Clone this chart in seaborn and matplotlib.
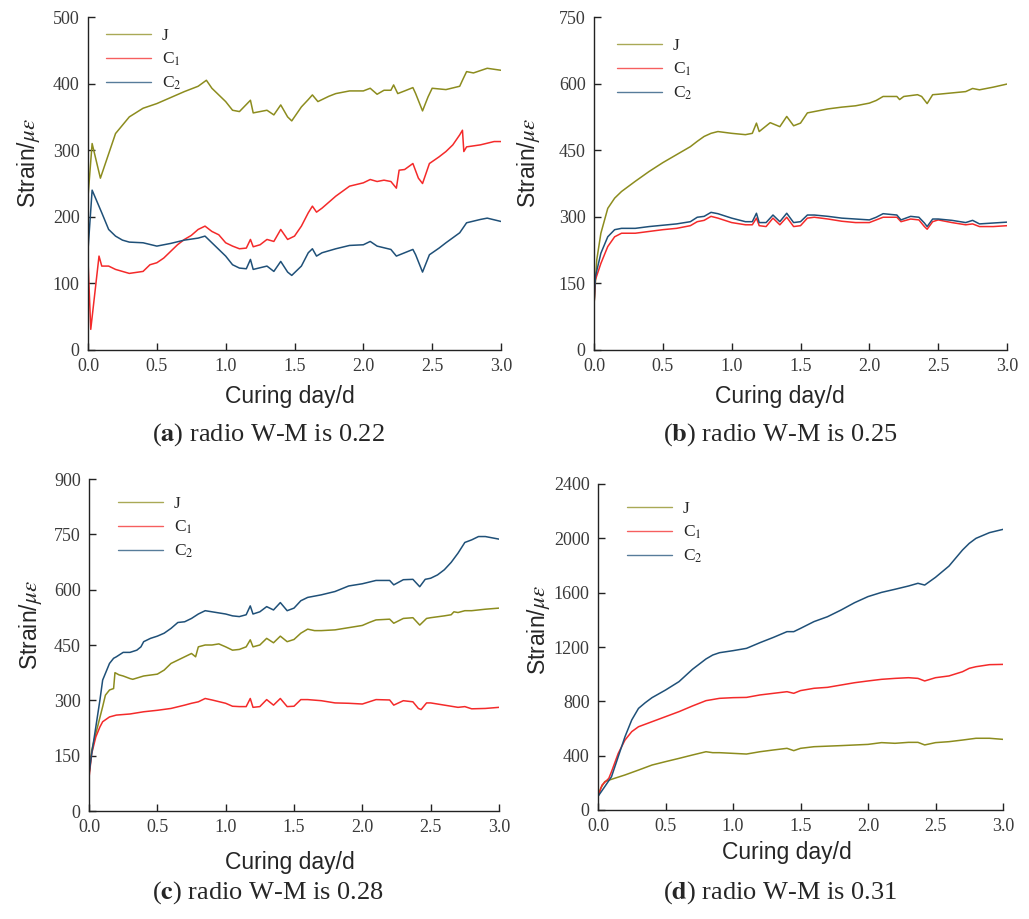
import numpy as np
import pandas as pd
import matplotlib
matplotlib.use("Agg")
import matplotlib.pyplot as plt
import seaborn as sns

# ---------------- data ----------------
# Panel (a) W-M 0.22
a_J_x = [0.0, 0.03, 0.09, 0.2, 0.3, 0.4, 0.5, 0.6, 0.7, 0.8, 0.86, 0.9, 1.0, 1.05, 1.1, 1.18, 1.2, 1.3, 1.35, 1.4, 1.45, 1.48, 1.55, 1.6, 1.63, 1.67, 1.75, 1.8, 1.9, 2.0, 2.05, 2.1, 2.15, 2.2, 2.22, 2.25, 2.3, 2.36, 2.38, 2.43, 2.47, 2.5, 2.6, 2.7, 2.72, 2.75, 2.8, 2.9, 3.0]
a_J_y = [230, 310, 258, 325, 350, 363, 370, 379, 388, 396, 405, 393, 373, 360, 358, 375, 356, 360, 353, 368, 350, 344, 365, 376, 383, 373, 381, 385, 389, 389, 393, 384, 390, 390, 398, 385, 389, 394, 385, 359, 380, 393, 391, 396, 405, 418, 416, 423, 420]
a_C1_x = [0.0, 0.02, 0.08, 0.1, 0.15, 0.2, 0.3, 0.4, 0.45, 0.5, 0.55, 0.6, 0.65, 0.7, 0.75, 0.8, 0.85, 0.9, 0.95, 1.0, 1.05, 1.1, 1.15, 1.18, 1.2, 1.25, 1.3, 1.35, 1.4, 1.45, 1.5, 1.55, 1.6, 1.63, 1.66, 1.7, 1.8, 1.9, 2.0, 2.05, 2.1, 2.15, 2.2, 2.24, 2.26, 2.3, 2.36, 2.4, 2.43, 2.48, 2.55, 2.6, 2.65, 2.7, 2.72, 2.73, 2.75, 2.85, 2.95, 3.0]
a_C1_y = [135, 31, 141, 126, 126, 121, 115, 118, 128, 131, 138, 148, 158, 166, 172, 181, 186, 178, 173, 161, 156, 152, 153, 166, 155, 158, 166, 163, 181, 166, 171, 186, 206, 216, 207, 213, 231, 246, 251, 256, 253, 255, 253, 243, 270, 271, 280, 258, 250, 280, 290, 298, 308, 323, 330, 298, 305, 308, 313, 313]
a_C2_x = [0.0, 0.03, 0.1, 0.15, 0.2, 0.25, 0.3, 0.4, 0.5, 0.6, 0.7, 0.8, 0.85, 0.9, 1.0, 1.05, 1.1, 1.15, 1.18, 1.2, 1.3, 1.35, 1.4, 1.45, 1.48, 1.55, 1.6, 1.63, 1.66, 1.7, 1.8, 1.9, 2.0, 2.05, 2.1, 2.2, 2.24, 2.3, 2.36, 2.38, 2.43, 2.48, 2.55, 2.6, 2.7, 2.75, 2.85, 2.9, 3.0]
a_C2_y = [150, 240, 206, 181, 171, 165, 162, 161, 156, 160, 165, 168, 171, 161, 141, 128, 123, 122, 136, 121, 126, 118, 133, 117, 112, 126, 146, 152, 141, 146, 152, 157, 158, 163, 156, 151, 141, 146, 151, 143, 117, 143, 153, 161, 176, 191, 196, 198, 193]

# Panel (b) W-M 0.25
b_J_x = [0.0, 0.02, 0.05, 0.1, 0.15, 0.2, 0.3, 0.4, 0.5, 0.6, 0.7, 0.75, 0.8, 0.85, 0.9, 1.0, 1.1, 1.15, 1.18, 1.2, 1.28, 1.35, 1.4, 1.45, 1.5, 1.55, 1.6, 1.7, 1.8, 1.9, 2.0, 2.05, 2.1, 2.2, 2.22, 2.25, 2.35, 2.38, 2.42, 2.46, 2.5, 2.6, 2.7, 2.75, 2.8, 2.9, 3.0]
b_J_y = [100, 203, 263, 319, 342, 357, 380, 402, 422, 440, 458, 470, 481, 488, 492, 488, 485, 488, 511, 492, 512, 503, 526, 505, 511, 534, 537, 543, 547, 550, 556, 562, 571, 571, 564, 571, 575, 571, 555, 575, 576, 579, 582, 589, 586, 592, 599]
b_C_x = [0.0, 0.01, 0.05, 0.1, 0.15, 0.2, 0.3, 0.4, 0.5, 0.6, 0.7, 0.75, 0.8, 0.85, 0.9, 1.0, 1.1, 1.15, 1.18, 1.2, 1.25, 1.3, 1.35, 1.4, 1.45, 1.5, 1.55, 1.6, 1.7, 1.8, 1.9, 2.0, 2.05, 2.1, 2.2, 2.23, 2.3, 2.36, 2.4, 2.42, 2.46, 2.5, 2.6, 2.7, 2.75, 2.8, 2.9, 3.0]
b_C1_y = [100, 158, 195, 233, 255, 263, 263, 267, 271, 274, 280, 289, 292, 301, 297, 287, 282, 282, 297, 280, 278, 297, 282, 299, 278, 280, 297, 299, 295, 290, 287, 287, 293, 299, 299, 289, 295, 293, 278, 272, 289, 293, 287, 282, 284, 278, 278, 280]
b_C2_y = [100, 165, 218, 255, 271, 274, 274, 278, 281, 284, 289, 299, 301, 310, 307, 297, 289, 289, 308, 287, 287, 304, 289, 308, 287, 289, 304, 304, 301, 297, 295, 293, 299, 307, 304, 293, 301, 299, 286, 278, 295, 295, 292, 287, 292, 284, 286, 288]

# Panel (c) W-M 0.28
c_C2_x = [0.0, 0.02, 0.05, 0.08, 0.1, 0.12, 0.15, 0.18, 0.2, 0.25, 0.3, 0.35, 0.38, 0.4, 0.45, 0.5, 0.55, 0.6, 0.65, 0.7, 0.75, 0.8, 0.85, 0.9, 1.0, 1.05, 1.1, 1.15, 1.18, 1.2, 1.25, 1.3, 1.35, 1.4, 1.45, 1.5, 1.55, 1.6, 1.7, 1.8, 1.9, 2.0, 2.1, 2.2, 2.23, 2.3, 2.37, 2.42, 2.46, 2.5, 2.55, 2.6, 2.65, 2.7, 2.75, 2.8, 2.85, 2.9, 3.0]
c_C2_y = [100, 156, 228, 301, 355, 373, 400, 414, 418, 430, 430, 436, 445, 459, 468, 474, 482, 495, 511, 513, 522, 534, 543, 540, 534, 529, 527, 532, 556, 534, 540, 554, 545, 565, 543, 550, 570, 579, 586, 595, 610, 616, 625, 625, 613, 627, 628, 608, 628, 631, 640, 654, 674, 699, 728, 735, 744, 744, 737]
c_J_x = [0.0, 0.02, 0.05, 0.1, 0.12, 0.15, 0.18, 0.19, 0.22, 0.25, 0.3, 0.32, 0.4, 0.5, 0.55, 0.6, 0.65, 0.7, 0.75, 0.78, 0.8, 0.85, 0.9, 0.95, 1.0, 1.05, 1.1, 1.15, 1.18, 1.2, 1.25, 1.3, 1.35, 1.4, 1.45, 1.5, 1.55, 1.6, 1.65, 1.7, 1.8, 1.9, 2.0, 2.05, 2.1, 2.2, 2.23, 2.3, 2.37, 2.42, 2.47, 2.5, 2.6, 2.65, 2.67, 2.7, 2.75, 2.8, 2.9, 3.0]
c_J_y = [100, 165, 210, 283, 314, 328, 332, 375, 369, 366, 359, 357, 366, 371, 382, 400, 409, 418, 427, 418, 445, 450, 450, 453, 445, 436, 438, 445, 464, 445, 450, 468, 456, 474, 459, 465, 482, 493, 489, 489, 491, 497, 503, 511, 518, 520, 509, 522, 524, 504, 522, 524, 529, 532, 540, 538, 543, 543, 547, 550]
c_C1_x = [0.0, 0.02, 0.05, 0.08, 0.1, 0.15, 0.2, 0.3, 0.4, 0.5, 0.6, 0.7, 0.75, 0.8, 0.85, 0.9, 1.0, 1.05, 1.1, 1.15, 1.18, 1.2, 1.25, 1.3, 1.35, 1.4, 1.45, 1.5, 1.55, 1.6, 1.7, 1.8, 1.9, 2.0, 2.05, 2.1, 2.2, 2.23, 2.3, 2.37, 2.41, 2.43, 2.47, 2.5, 2.6, 2.7, 2.75, 2.8, 2.9, 3.0]
c_C1_y = [90, 156, 201, 228, 242, 255, 260, 263, 269, 273, 278, 287, 292, 296, 305, 301, 292, 284, 283, 283, 305, 281, 283, 302, 287, 305, 283, 284, 302, 302, 299, 293, 292, 290, 296, 302, 301, 287, 299, 296, 278, 275, 293, 293, 287, 281, 283, 277, 278, 281]

# Panel (d) W-M 0.31
d_C2_x = [0.0, 0.05, 0.1, 0.15, 0.2, 0.25, 0.3, 0.35, 0.4, 0.5, 0.6, 0.7, 0.8, 0.85, 0.9, 1.0, 1.1, 1.2, 1.3, 1.4, 1.45, 1.5, 1.6, 1.7, 1.8, 1.9, 2.0, 2.1, 2.2, 2.3, 2.37, 2.42, 2.5, 2.6, 2.7, 2.75, 2.8, 2.9, 3.0]
d_C2_y = [100, 172, 245, 393, 540, 663, 748, 790, 827, 883, 945, 1036, 1112, 1141, 1158, 1173, 1190, 1232, 1271, 1313, 1313, 1337, 1387, 1423, 1472, 1526, 1571, 1602, 1625, 1649, 1669, 1656, 1713, 1796, 1914, 1963, 2000, 2042, 2066]
d_C1_x = [0.0, 0.03, 0.08, 0.1, 0.15, 0.2, 0.25, 0.3, 0.4, 0.5, 0.6, 0.7, 0.8, 0.9, 1.0, 1.1, 1.2, 1.3, 1.4, 1.45, 1.5, 1.6, 1.7, 1.8, 1.9, 2.0, 2.1, 2.2, 2.3, 2.37, 2.42, 2.5, 2.6, 2.7, 2.75, 2.8, 2.9, 3.0]
d_C1_y = [100, 184, 233, 282, 417, 515, 577, 613, 650, 687, 724, 766, 805, 822, 827, 829, 847, 859, 871, 859, 879, 896, 903, 920, 937, 950, 962, 969, 974, 969, 950, 974, 987, 1018, 1043, 1055, 1070, 1072]
d_J_x = [0.0, 0.02, 0.05, 0.1, 0.2, 0.3, 0.4, 0.5, 0.6, 0.7, 0.8, 0.85, 0.9, 1.0, 1.1, 1.2, 1.3, 1.4, 1.45, 1.5, 1.6, 1.8, 2.0, 2.1, 2.2, 2.3, 2.37, 2.42, 2.5, 2.6, 2.7, 2.8, 2.9, 3.0]
d_J_y = [100, 160, 209, 226, 258, 294, 331, 356, 380, 405, 429, 422, 422, 417, 412, 429, 442, 454, 437, 454, 466, 474, 483, 496, 491, 498, 498, 479, 496, 503, 515, 528, 528, 520]

series_names = ["J", "C$_1$", "C$_2$"]
x_ticks = [0.0, 0.5, 1.0, 1.5, 2.0, 2.5, 3.0]
y_ticks_a = [0, 100, 200, 300, 400, 500]
y_ticks_b = [0, 150, 300, 450, 600, 750]
y_ticks_c = [0, 150, 300, 450, 600, 750, 900]
y_ticks_d = [0, 400, 800, 1200, 1600, 2000, 2400]
captions = [("a", "0.22"), ("b", "0.25"), ("c", "0.28"), ("d", "0.31")]
xlabel_text = "Curing day/d"
ylabel_text = r"Strain/$\mu\varepsilon$"

colors = {"J": "#8c8c1e", "C$_1$": "#f42a2a", "C$_2$": "#1f5078"}

# ---------------- build panels ----------------
def make_df(parts):
    frames = []
    for name, xs, ys in parts:
        frames.append(pd.DataFrame({"day": xs, "strain": ys, "series": name}))
    return pd.concat(frames, ignore_index=True)

panels = [
    (make_df([("J", a_J_x, a_J_y), ("C$_1$", a_C1_x, a_C1_y), ("C$_2$", a_C2_x, a_C2_y)]), y_ticks_a),
    (make_df([("J", b_J_x, b_J_y), ("C$_1$", b_C_x, b_C1_y), ("C$_2$", b_C_x, b_C2_y)]), y_ticks_b),
    (make_df([("J", c_J_x, c_J_y), ("C$_1$", c_C1_x, c_C1_y), ("C$_2$", c_C2_x, c_C2_y)]), y_ticks_c),
    (make_df([("J", d_J_x, d_J_y), ("C$_1$", d_C1_x, d_C1_y), ("C$_2$", d_C2_x, d_C2_y)]), y_ticks_d),
]

sns.set_style("ticks")
plt.rcParams["font.family"] = ["Liberation Serif", "DejaVu Serif"]
plt.rcParams["mathtext.fontset"] = "stix"

W, H = 1029, 919
fig = plt.figure(figsize=(W / 100, H / 100), dpi=100)

# axes boxes in pixels: left, top, right, bottom
boxes = [(88, 17, 501, 350), (594, 17, 1007, 350), (89, 479, 499, 811), (598, 484, 1003, 810)]
legend_anchor = [(106, 28), (617, 38), (118, 496), (627, 501)]
xlabel_pos = [(290, 397), (780, 397), (290, 862), (787, 853)]
ylabel_pos = [(28, 163), (528, 163), (31, 625), (538, 630)]
caption_pos = [(268, 435), (780, 435), (268, 893), (780, 893)]

for i, (df, yt) in enumerate(panels):
    l, t, r, b = boxes[i]
    ax = fig.add_axes([l / W, 1 - b / H, (r - l) / W, (b - t) / H])
    sns.lineplot(data=df, x="day", y="strain", hue="series", hue_order=series_names,
                 palette=colors, estimator=None, sort=False, linewidth=1.1, ax=ax)
    ax.set_xlim(0, 3.0)
    ax.set_ylim(yt[0], yt[-1])
    ax.set_xticks(x_ticks)
    ax.set_xticklabels([f"{v:.1f}" for v in x_ticks])
    ax.set_yticks(yt)
    ax.set_yticklabels([str(v) for v in yt])
    for s in ["top", "right"]:
        ax.spines[s].set_visible(False)
    for s in ["left", "bottom"]:
        ax.spines[s].set_color("#222222")
        ax.spines[s].set_linewidth(1.0)
    ax.tick_params(direction="in", length=5, width=1.0, color="#222222",
                   labelsize=13, labelcolor="#3a3a3a")
    ax.tick_params(axis="x", pad=6)
    ax.tick_params(axis="y", pad=6)
    ax.set_xlabel("")
    ax.set_ylabel("")
    lx, ly = legend_anchor[i]
    ax_l = (lx - l) / (r - l)
    ax_t = 1 - (ly - t) / (b - t)
    leg = ax.legend(loc="upper left", bbox_to_anchor=(ax_l, ax_t), frameon=False,
                    fontsize=12.5, handlelength=2.6, handletextpad=0.6,
                    labelspacing=0.38, borderpad=0, borderaxespad=0)
    for line in leg.get_lines():
        line.set_linewidth(1.0)
        line.set_alpha(0.75)

    fig.text(xlabel_pos[i][0] / W, 1 - xlabel_pos[i][1] / H, xlabel_text,
             ha="center", va="center", fontsize=16.5, family=["Liberation Sans", "DejaVu Sans"])
    fig.text(ylabel_pos[i][0] / W, 1 - ylabel_pos[i][1] / H, ylabel_text,
             ha="center", va="center", rotation=90, fontsize=16.5,
             family=["Liberation Sans", "DejaVu Sans"])
    letter, val = captions[i]
    fig.text(caption_pos[i][0] / W, 1 - caption_pos[i][1] / H,
             r"($\mathbf{" + letter + r"}$) radio W-M is " + val,
             ha="center", va="center", fontsize=19)

fig.savefig("out.png", dpi=100)
